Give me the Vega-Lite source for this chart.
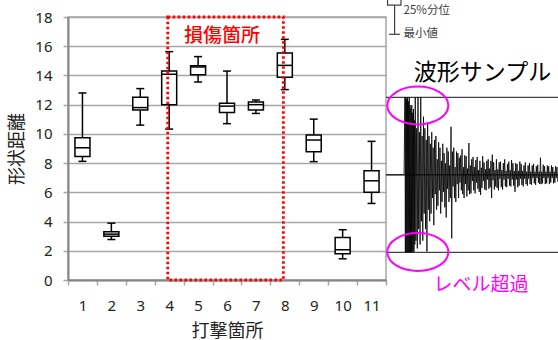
{
  "$schema": "https://vega.github.io/schema/vega-lite/v6.json",
  "width": 318,
  "height": 263,
  "autosize": "none",
  "padding": {"left": 68, "top": 17, "right": 172, "bottom": 60},
  "background": "white",
  "config": {
    "view": {"stroke": "#a6a6a6", "strokeWidth": 1.5},
    "axis": {
      "domainColor": "#868686", "domainWidth": 2,
      "tickColor": "#a6a6a6", "tickWidth": 1.5, "tickSize": 5,
      "labelFont": "Noto Sans", "labelFontSize": 15, "labelColor": "#222222",
      "titleFont": "Noto Sans CJK JP", "titleFontSize": 18, "titleFontWeight": "normal", "titleColor": "#222222",
      "gridColor": "#a6a6a6", "gridWidth": 1.5
    },
    "axisX": {"labelAngle": 0, "tickBand": "extent", "grid": false, "labelPadding": 13, "titlePadding": 9},
    "axisY": {"labelPadding": 11, "titlePadding": 8, "values": [0, 2, 4, 6, 8, 10, 12, 14, 16, 18], "grid": true}
  },
  "datasets": {
    "boxes": [
      {"site": "1", "lo": 8.12, "q1": 8.46, "med": 9.05, "q3": 9.74, "hi": 12.8},
      {"site": "2", "lo": 2.77, "q1": 3.0, "med": 3.14, "q3": 3.3, "hi": 3.89},
      {"site": "3", "lo": 10.6, "q1": 11.63, "med": 11.8, "q3": 12.5, "hi": 13.1},
      {"site": "4", "lo": 10.33, "q1": 12.0, "med": 14.08, "q3": 14.3, "hi": 15.63},
      {"site": "5", "lo": 13.55, "q1": 14.05, "med": 14.58, "q3": 14.67, "hi": 15.29},
      {"site": "6", "lo": 10.7, "q1": 11.47, "med": 11.9, "q3": 12.09, "hi": 14.3},
      {"site": "7", "lo": 11.4, "q1": 11.63, "med": 12.0, "q3": 12.18, "hi": 12.32},
      {"site": "8", "lo": 13.03, "q1": 13.87, "med": 14.69, "q3": 15.53, "hi": 16.47},
      {"site": "9", "lo": 8.1, "q1": 8.78, "med": 9.58, "q3": 9.92, "hi": 11.01},
      {"site": "10", "lo": 1.45, "q1": 1.79, "med": 2.07, "q3": 2.91, "hi": 3.44},
      {"site": "11", "lo": 5.24, "q1": 6.01, "med": 6.79, "q3": 7.48, "hi": 9.49}
    ],
    "wave": [
      {"t":0,"a":0},{"t":10.5,"a":0},{"t":11,"a":1},{"t":11.25,"a":-1},{"t":11.5,"a":1},{"t":11.75,"a":-1},{"t":12,"a":0.98},{"t":12.25,"a":-1},{"t":12.5,"a":1},{"t":12.75,"a":-1},
      {"t":13,"a":0.95},{"t":13.25,"a":-1},{"t":13.5,"a":1},{"t":13.75,"a":-1},{"t":14,"a":0.9},{"t":14.25,"a":-1},{"t":14.5,"a":0.85},{"t":14.75,"a":-1},{"t":15,"a":0.9},{"t":15.25,"a":-1},
      {"t":15.5,"a":0.8},{"t":15.75,"a":-0.98},{"t":16,"a":0.85},{"t":16.25,"a":-1},{"t":16.5,"a":0.7},{"t":16.75,"a":-0.9},{"t":17,"a":1},{"t":17.4,"a":-0.85},{"t":17.8,"a":0.6},{"t":18.2,"a":-0.95},
      {"t":18.6,"a":1},{"t":19,"a":-0.7},{"t":19.4,"a":0.55},{"t":19.8,"a":-0.9},{"t":20.2,"a":1},{"t":20.6,"a":-0.6},{"t":21,"a":0.5},{"t":21.4,"a":-0.85},{"t":21.8,"a":0.75},{"t":22.2,"a":-0.5},
      {"t":22.6,"a":0.6},{"t":23,"a":-0.7},{"t":23.4,"a":0.45},{"t":23.8,"a":-0.99},{"t":24.2,"a":0.67},{"t":24.6,"a":-0.45},{"t":25,"a":0.5},{"t":25.4,"a":-0.6},{"t":25.8,"a":0.4},{"t":26.2,"a":-0.5},
      {"t":26.6,"a":0.55},{"t":27,"a":-0.3},{"t":27.4,"a":0.35},{"t":27.8,"a":-0.65},{"t":28.2,"a":0.45},{"t":28.6,"a":-0.25},{"t":29,"a":0.5},{"t":29.4,"a":-0.45},{"t":29.8,"a":0.2},{"t":30.2,"a":-0.4},
      {"t":30.6,"a":0.42},{"t":31,"a":-0.2},{"t":31.4,"a":0.35},{"t":31.8,"a":-0.5},{"t":32.2,"a":0.18},{"t":32.6,"a":-0.35},{"t":33,"a":0.4},{"t":33.4,"a":-0.22},{"t":33.8,"a":0.28},{"t":34.2,"a":-0.42},
      {"t":34.6,"a":0.15},{"t":35,"a":-0.55},{"t":35.4,"a":0.35},{"t":35.8,"a":-0.18},{"t":36.2,"a":0.3},{"t":36.6,"a":-0.35},{"t":37,"a":0.12},{"t":37.4,"a":-0.3},{"t":37.8,"a":0.62},{"t":38.2,"a":-0.82},
      {"t":38.6,"a":0.3},{"t":39,"a":-0.15},{"t":39.4,"a":0.35},{"t":39.8,"a":-0.3},{"t":40.2,"a":0.1},{"t":40.6,"a":-0.35},{"t":41,"a":0.3},{"t":41.4,"a":-0.12},{"t":41.8,"a":0.28},{"t":42.2,"a":-0.3},
      {"t":42.6,"a":0.22},{"t":43,"a":-0.1},{"t":43.4,"a":0.25},{"t":43.8,"a":-0.2},{"t":44.2,"a":0.33},{"t":44.6,"a":-0.25},{"t":45,"a":0.1},{"t":45.4,"a":-0.3},{"t":45.8,"a":0.25},{"t":46.2,"a":-0.12},
      {"t":46.6,"a":0.24},{"t":47,"a":-0.28},{"t":47.4,"a":0.08},{"t":47.8,"a":-0.2},{"t":48.2,"a":0.41},{"t":48.6,"a":-0.25},{"t":49,"a":0.12},{"t":49.4,"a":-0.24},{"t":49.8,"a":0.2},{"t":50.2,"a":-0.08},
      {"t":50.6,"a":0.23},{"t":51,"a":-0.2},{"t":51.4,"a":0.1},{"t":51.8,"a":-0.24},{"t":52.2,"a":0.19},{"t":52.6,"a":-0.1},{"t":53,"a":0.23},{"t":53.4,"a":-0.18},{"t":53.8,"a":0.06},{"t":54.2,"a":-0.22},
      {"t":54.6,"a":0.18},{"t":55,"a":-0.26},{"t":55.4,"a":0.09},{"t":55.8,"a":-0.17},{"t":56.2,"a":0.24},{"t":56.6,"a":-0.08},{"t":57,"a":0.16},{"t":57.4,"a":-0.19},{"t":57.8,"a":0.07},{"t":58.2,"a":-0.2},
      {"t":58.6,"a":0.18},{"t":59,"a":-0.06},{"t":59.4,"a":0.2},{"t":59.8,"a":-0.18},{"t":60.2,"a":0.08},{"t":60.6,"a":-0.16},{"t":61,"a":0.18},{"t":61.4,"a":-0.3},{"t":61.8,"a":0.26},{"t":62.2,"a":-0.07},
      {"t":62.6,"a":0.16},{"t":63,"a":-0.19},{"t":63.4,"a":0.06},{"t":63.8,"a":-0.15},{"t":64.2,"a":0.2},{"t":64.6,"a":-0.17},{"t":65,"a":0.07},{"t":65.4,"a":-0.2},{"t":65.8,"a":0.16},{"t":66.2,"a":-0.05},
      {"t":66.6,"a":0.17},{"t":67,"a":-0.16},{"t":67.4,"a":0.06},{"t":67.8,"a":-0.19},{"t":68.2,"a":0.15},{"t":68.6,"a":-0.06},{"t":69,"a":0.2},{"t":69.4,"a":-0.15},{"t":69.8,"a":0.05},{"t":70.2,"a":-0.16},
      {"t":70.6,"a":0.14},{"t":71,"a":-0.05},{"t":71.4,"a":0.17},{"t":71.8,"a":-0.14},{"t":72.2,"a":0.06},{"t":72.6,"a":-0.15},{"t":73,"a":0.19},{"t":73.4,"a":-0.06},{"t":73.8,"a":0.15},{"t":74.2,"a":-0.14},
      {"t":74.6,"a":0.05},{"t":75,"a":-0.22},{"t":75.4,"a":0.15},{"t":75.8,"a":-0.06},{"t":76.2,"a":0.14},{"t":76.6,"a":-0.16},{"t":77,"a":0.05},{"t":77.4,"a":-0.14},{"t":77.8,"a":0.17},{"t":78.2,"a":-0.05},
      {"t":78.6,"a":0.14},{"t":79,"a":-0.13},{"t":79.4,"a":0.05},{"t":79.8,"a":-0.15},{"t":80.2,"a":0.12},{"t":80.6,"a":-0.05},{"t":81,"a":0.16},{"t":81.4,"a":-0.12},{"t":81.8,"a":0.04},{"t":82.2,"a":-0.14},
      {"t":82.6,"a":0.12},{"t":83,"a":-0.05},{"t":83.4,"a":0.15},{"t":83.8,"a":-0.12},{"t":84.2,"a":0.04},{"t":84.6,"a":-0.13},{"t":85,"a":0.12},{"t":85.4,"a":-0.04},{"t":85.8,"a":0.14},{"t":86.2,"a":-0.11},
      {"t":86.6,"a":0.04},{"t":87,"a":-0.13},{"t":87.4,"a":0.11},{"t":87.8,"a":-0.04},{"t":88.2,"a":0.13},{"t":88.6,"a":-0.1},{"t":89,"a":0.04},{"t":89.4,"a":-0.12},{"t":89.8,"a":0.22},{"t":90.2,"a":-0.12},
      {"t":90.6,"a":0.04},{"t":91,"a":-0.11},{"t":91.4,"a":0.13},{"t":91.8,"a":-0.04},{"t":92.2,"a":0.11},{"t":92.6,"a":-0.12},{"t":93,"a":0.04},{"t":93.4,"a":-0.11},{"t":93.8,"a":0.12},{"t":94.2,"a":-0.04},
      {"t":94.6,"a":0.11},{"t":95,"a":-0.12},{"t":95.4,"a":0.04},{"t":95.8,"a":-0.1},{"t":96.2,"a":0.12},{"t":96.6,"a":-0.04},{"t":97,"a":0.1},{"t":97.4,"a":-0.11},{"t":97.8,"a":0.04},{"t":98.2,"a":-0.1},
      {"t":98.6,"a":0.11},{"t":99,"a":-0.04},{"t":99.4,"a":0.1},{"t":99.8,"a":-0.09}
    ]
  },
  "layer": [
    {
      "data": {"name": "boxes"},
      "encoding": {
        "x": {"field": "site", "type": "ordinal", "sort": null, "title": "打撃箇所",
              "scale": {"domain": ["1","2","3","4","5","6","7","8","9","10","11"], "paddingInner": 0, "paddingOuter": 0}}
      },
      "layer": [
        {"mark": {"type": "rule", "color": "black", "strokeWidth": 1.5},
         "encoding": {"y": {"field": "lo", "type": "quantitative", "title": "形状距離", "scale": {"domain": [0, 18], "nice": false}}, "y2": {"field": "hi"}}},
        {"mark": {"type": "bar", "width": 15, "fill": "white", "stroke": "black", "strokeWidth": 1.5},
         "encoding": {"y": {"field": "q1", "type": "quantitative", "title": "形状距離"}, "y2": {"field": "q3"}}},
        {"mark": {"type": "tick", "size": 15, "thickness": 1.5, "color": "black", "opacity": 1},
         "encoding": {"y": {"field": "med", "type": "quantitative", "title": "形状距離"}}},
        {"mark": {"type": "tick", "size": 8, "thickness": 1.5, "color": "black", "opacity": 1},
         "encoding": {"y": {"field": "lo", "type": "quantitative", "title": "形状距離"}}},
        {"mark": {"type": "tick", "size": 8, "thickness": 1.5, "color": "black", "opacity": 1},
         "encoding": {"y": {"field": "hi", "type": "quantitative", "title": "形状距離"}}},
        {"data": {"values": [{"s": "4", "e": "8", "y0": 0, "y1": 18}]},
         "mark": {"type": "rect", "fillOpacity": 0, "fill": "white", "stroke": "#ff0000", "strokeWidth": 2.8, "strokeDash": [2.5, 2.5]},
         "encoding": {
           "x": {"field": "s", "type": "ordinal", "bandPosition": 0.45, "title": "打撃箇所"},
           "x2": {"field": "e", "bandPosition": 0.45},
           "y": {"field": "y0", "type": "quantitative", "title": "形状距離"},
           "y2": {"field": "y1"}}},
        {"data": {"values": [{"site": "6", "v": 16.68, "label": "損傷箇所"}]},
         "mark": {"type": "text", "font": "Noto Sans CJK JP", "fontSize": 19, "fontWeight": 500, "color": "#ff0000", "dx": -5},
         "encoding": {"y": {"field": "v", "type": "quantitative", "title": "形状距離"}, "text": {"field": "label"}}}
      ]
    },
    {
      "layer": [
        {"data": {"values": [{"x0": 0, "x1": 100, "a": 1}, {"x0": 0, "x1": 100, "a": -1}, {"x0": 0, "x1": 100, "a": 0}]},
         "mark": {"type": "rule", "color": "#404040", "strokeWidth": 1.2},
         "encoding": {
           "x": {"field": "x0", "type": "quantitative", "axis": null, "scale": {"domain": [0, 100], "range": [318, 490], "zero": false, "nice": false}},
           "x2": {"field": "x1"},
           "y": {"field": "a", "type": "quantitative", "axis": null, "scale": {"domain": [-1, 1], "range": [235.3, 80.3], "zero": false, "nice": false}}}},
        {"data": {"name": "wave"},
         "mark": {"type": "line", "color": "black", "strokeWidth": 0.8},
         "encoding": {
           "x": {"field": "t", "type": "quantitative", "axis": null},
           "y": {"field": "a", "type": "quantitative", "axis": null}}},
        {"data": {"values": [{"t": 18.5, "a": 0.894}, {"t": 18.5, "a": -0.996}]},
         "mark": {"type": "point", "shape": "M-1,0 A1,0.62 0 1,1 1,0 A1,0.62 0 1,1 -1,0 Z", "size": 3721, "filled": false, "stroke": "#ff00ff", "strokeWidth": 2, "opacity": 1},
         "encoding": {
           "x": {"field": "t", "type": "quantitative", "axis": null},
           "y": {"field": "a", "type": "quantitative", "axis": null}}},
        {"data": {"values": [{"t": 56.1, "a": 1.31, "label": "波形サンプル"}]},
         "mark": {"type": "text", "font": "Noto Sans CJK JP", "fontSize": 23, "color": "black"},
         "encoding": {
           "x": {"field": "t", "type": "quantitative", "axis": null},
           "y": {"field": "a", "type": "quantitative", "axis": null},
           "text": {"field": "label"}}},
        {"data": {"values": [{"t": 55.2, "a": -1.42, "label": "レベル超過"}]},
         "mark": {"type": "text", "font": "Noto Sans CJK JP", "fontSize": 19, "color": "#ff00ff"},
         "encoding": {
           "x": {"field": "t", "type": "quantitative", "axis": null},
           "y": {"field": "a", "type": "quantitative", "axis": null},
           "text": {"field": "label"}}},
        {"data": {"values": [{"x0": 0.9, "x1": 8.7, "y0": 2.19, "y1": 2.7}]},
         "mark": {"type": "rect", "fill": "white", "stroke": "#404040", "strokeWidth": 1.2},
         "encoding": {
           "x": {"field": "x0", "type": "quantitative", "axis": null}, "x2": {"field": "x1"},
           "y": {"field": "y0", "type": "quantitative", "axis": null}, "y2": {"field": "y1"}}},
        {"data": {"values": [{"x0": 5.0, "x1": 5.0, "y0": 1.813, "y1": 2.19}, {"x0": 1.8, "x1": 8.2, "y0": 1.813, "y1": 1.813}]},
         "mark": {"type": "rule", "color": "#404040", "strokeWidth": 1.2},
         "encoding": {
           "x": {"field": "x0", "type": "quantitative", "axis": null}, "x2": {"field": "x1"},
           "y": {"field": "y0", "type": "quantitative", "axis": null}, "y2": {"field": "y1"}}},
        {"data": {"values": [{"t": 10.2, "a": 2.12, "label": "25%分位"}, {"t": 10.2, "a": 1.813, "label": "最小値"}]},
         "mark": {"type": "text", "font": "Noto Sans CJK JP", "fontSize": 11.5, "color": "#404040", "align": "left", "baseline": "middle"},
         "encoding": {
           "x": {"field": "t", "type": "quantitative", "axis": null},
           "y": {"field": "a", "type": "quantitative", "axis": null},
           "text": {"field": "label"}}}
      ]
    }
  ],
  "resolve": {"scale": {"x": "independent", "y": "independent"}, "axis": {"x": "independent", "y": "independent"}}
}
